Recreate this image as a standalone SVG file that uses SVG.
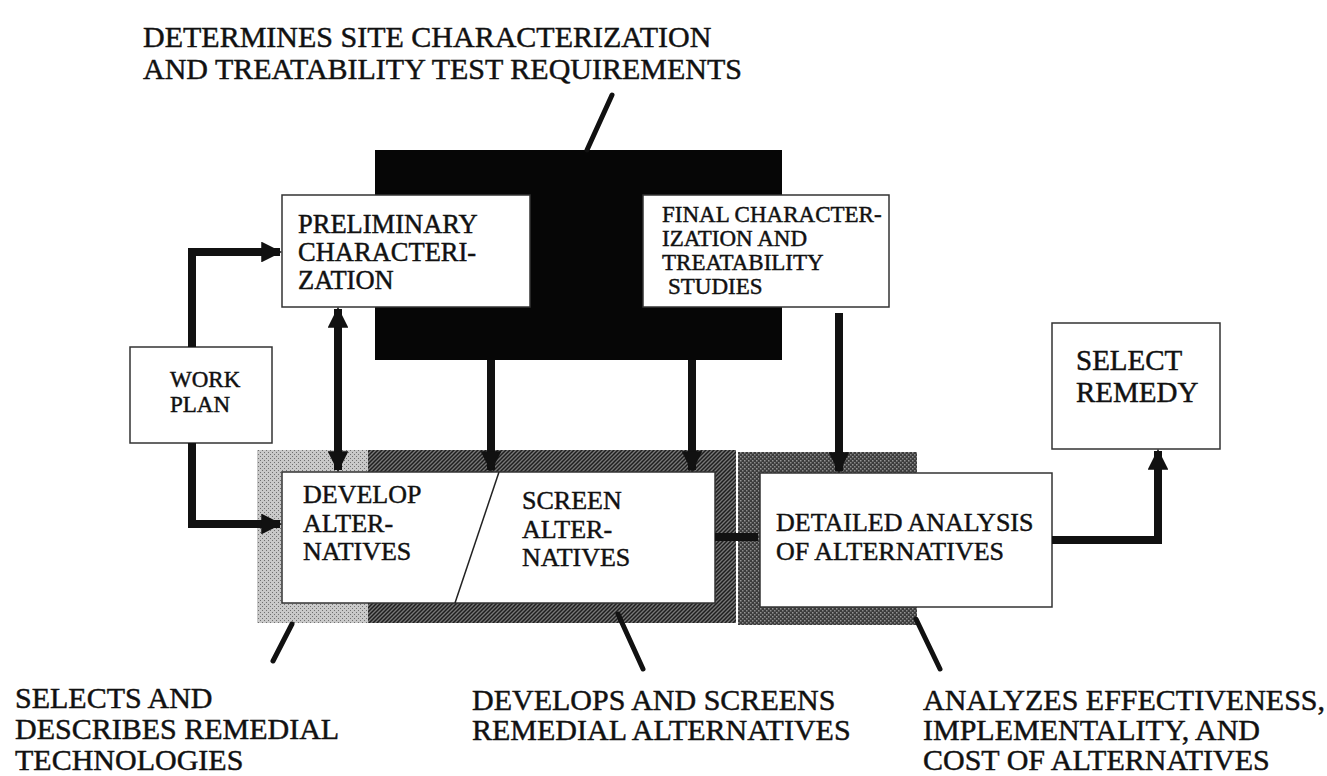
<svg xmlns="http://www.w3.org/2000/svg" width="1327" height="776" viewBox="0 0 1327 776">
  <defs>
    <pattern id="stipLight" width="4" height="4" patternUnits="userSpaceOnUse">
      <rect width="4" height="4" fill="#c9c9c9"/>
      <rect x="0" y="0" width="1" height="1" fill="#707070"/>
      <rect x="2" y="2" width="1" height="1" fill="#707070"/>
    </pattern>
    <pattern id="hatch" width="4" height="4" patternUnits="userSpaceOnUse">
      <rect width="4" height="4" fill="#777"/>
      <path d="M-1,1 L1,-1 M0,4 L4,0 M3,5 L5,3" stroke="#1e1e1e" stroke-width="1.5"/>
    </pattern>
    <pattern id="stipDark" width="4" height="4" patternUnits="userSpaceOnUse">
      <rect width="4" height="4" fill="#3c3c3c"/>
      <rect x="0" y="0" width="1.5" height="1.5" fill="#959595"/>
      <rect x="2" y="2" width="1.5" height="1.5" fill="#8a8a8a"/>
    </pattern>
    <marker id="ah" viewBox="0 0 10 10" refX="9" refY="5" markerWidth="2.6" markerHeight="2.6" orient="auto-start-reverse" markerUnits="strokeWidth">
      <path d="M0,0 L10,5 L0,10 z" fill="#111"/>
    </marker>
  </defs>
  <style>
    text { font-family: "Liberation Serif", "Times New Roman", serif; fill: #111; stroke: #111; stroke-width: 0.45; }
    .lbl { font-size: 26px; }
    .pre { font-size: 26.5px; }
    .sm { font-size: 23px; }
    .sel { font-size: 29px; }
    .big { font-size: 30px; }
    .box { fill: #fff; stroke: #333; stroke-width: 1.5; }
    .conn { fill: none; stroke: #111; stroke-width: 8; }
    .call { fill: none; stroke: #111; stroke-width: 5; stroke-linecap: round; }
  </style>
  <rect width="1327" height="776" fill="#fff"/>

  <g id="black-block">
    <rect x="375" y="150" width="407" height="210" fill="#060606"/>
  </g>

  <g id="develop-screen-band">
    <rect x="257" y="450" width="111" height="173" fill="url(#stipLight)"/>
    <rect x="368" y="450" width="368" height="173" fill="url(#hatch)"/>
  </g>

  <g id="detailed-band">
    <path d="M738,452 H917 V473 H760 V607 H917 V625 H738 Z" fill="url(#stipDark)"/>
  </g>

  <g id="preliminary">
    <rect class="box" x="282" y="195" width="248" height="112"/>
    <text class="pre" x="298" y="233">PRELIMINARY</text>
    <text class="pre" x="298" y="261">CHARACTERI-</text>
    <text class="pre" x="298" y="289">ZATION</text>
  </g>

  <g id="final">
    <rect class="box" x="643" y="195" width="246" height="112"/>
    <text class="sm" x="662" y="222">FINAL CHARACTER-</text>
    <text class="sm" x="662" y="246">IZATION AND</text>
    <text class="sm" x="662" y="270">TREATABILITY</text>
    <text class="sm" x="668" y="294">STUDIES</text>
  </g>

  <g id="work-plan">
    <rect class="box" x="130" y="347" width="142" height="96"/>
    <text class="sm" x="170" y="387">WORK</text>
    <text class="sm" x="170" y="412">PLAN</text>
  </g>

  <g id="develop-screen">
    <rect class="box" x="282" y="472" width="433" height="131"/>
    <line x1="499" y1="472" x2="455" y2="603" stroke="#222" stroke-width="1.5"/>
    <text class="lbl" x="303" y="503">DEVELOP</text>
    <text class="lbl" x="303" y="532">ALTER-</text>
    <text class="lbl" x="303" y="560">NATIVES</text>
    <text class="lbl" x="522" y="509">SCREEN</text>
    <text class="lbl" x="522" y="538">ALTER-</text>
    <text class="lbl" x="522" y="566">NATIVES</text>
  </g>

  <g id="detailed">
    <rect class="box" x="760" y="473" width="292" height="134"/>
    <text class="lbl" x="776" y="531">DETAILED ANALYSIS</text>
    <text class="lbl" x="776" y="560">OF ALTERNATIVES</text>
  </g>

  <g id="select-remedy">
    <rect class="box" x="1052" y="323" width="168" height="126"/>
    <text class="sel" x="1076" y="370">SELECT</text>
    <text class="sel" x="1076" y="402">REMEDY</text>
  </g>

  <g id="connectors">
    <path class="conn" d="M192,347 V252 H280" marker-end="url(#ah)"/>
    <path class="conn" d="M192,443 V524 H280" marker-end="url(#ah)"/>
    <path class="conn" d="M338,309 V470" marker-start="url(#ah)" marker-end="url(#ah)"/>
    <path class="conn" d="M491,360 V470" marker-end="url(#ah)"/>
    <path class="conn" d="M692,360 V470" marker-end="url(#ah)"/>
    <path class="conn" d="M839,313 V471" marker-end="url(#ah)"/>
    <path class="conn" d="M715,537 H758" stroke-width="9"/>
    <path class="conn" d="M1052,540 H1158 V451" marker-end="url(#ah)"/>
    <line class="call" x1="612" y1="95" x2="587" y2="150"/>
    <line class="call" x1="273" y1="661" x2="292" y2="624"/>
    <line class="call" x1="643" y1="669" x2="618" y2="614"/>
    <line class="call" x1="940" y1="669" x2="916" y2="619"/>
  </g>

  <g id="annotations">
    <text class="big" x="143" y="47">DETERMINES SITE CHARACTERIZATION</text>
    <text class="big" x="143" y="79">AND TREATABILITY TEST REQUIREMENTS</text>
    <text class="big" x="15" y="708">SELECTS AND</text>
    <text class="big" x="15" y="739">DESCRIBES REMEDIAL</text>
    <text class="big" x="15" y="770">TECHNOLOGIES</text>
    <text class="big" x="472" y="710">DEVELOPS AND SCREENS</text>
    <text class="big" x="472" y="740">REMEDIAL ALTERNATIVES</text>
    <text class="big" x="923" y="710">ANALYZES EFFECTIVENESS,</text>
    <text class="big" x="923" y="740">IMPLEMENTALITY, AND</text>
    <text class="big" x="923" y="770">COST OF ALTERNATIVES</text>
  </g>
</svg>
